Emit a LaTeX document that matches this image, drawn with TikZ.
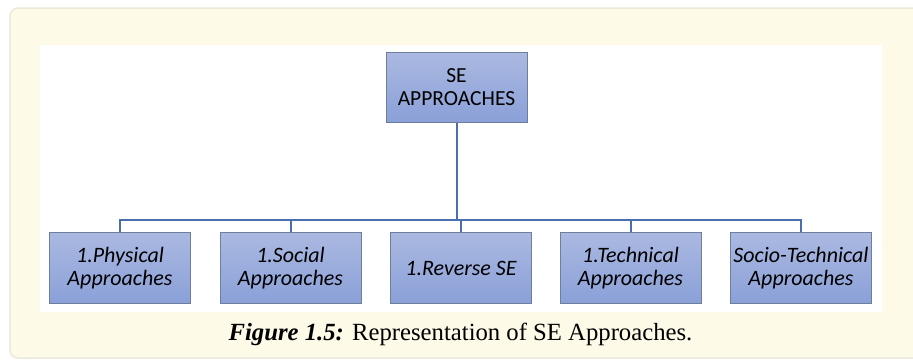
\documentclass[tikz,border=0pt]{standalone}
\usepackage{fontspec}
\setmainfont{Liberation Serif}
\newfontfamily\boxfont{Carlito}
\definecolor{panelfill}{HTML}{FEFAE8}
\definecolor{panelline}{HTML}{ECE9DC}
\definecolor{boxtop}{HTML}{ABB9E1}
\definecolor{boxbot}{HTML}{8AA0D8}
\definecolor{boxline}{HTML}{6E7E9E}
\definecolor{conn}{HTML}{4A6FAE}
\tikzset{
  sebox/.style={rectangle, draw=boxline, line width=1pt, top color=boxtop, bottom color=boxbot,
    minimum width=141pt, minimum height=71pt, inner sep=0pt, align=center,
    font=\boxfont\fontsize{21.5}{22.5}\selectfont, text=black},
  subbox/.style={sebox, font=\boxfont\itshape\fontsize{22}{22.5}\selectfont},
  link/.style={draw=conn, line width=2pt}
}
\begin{document}
\begin{tikzpicture}[x=1pt,y=-1pt]
\useasboundingbox (0,0) rectangle (913,360);
\clip (0,0) rectangle (913,360);
\fill[white] (0,0) rectangle (913,360);
\draw[panelline, fill=panelfill, line width=1.5pt, rounded corners=8pt] (10,8) rectangle (940,358);
\fill[white] (40,45) rectangle (882,312);
\node[sebox, minimum height=70pt] (root) at (456.5,87) {SE\\APPROACHES};
\node[subbox] (b1) at (120,268) {1.Physical\\Approaches};
\node[subbox] (b2) at (290.5,268) {1.Social\\Approaches};
\node[subbox] (b3) at (461,268) {1.Reverse SE};
\node[subbox] (b4) at (630.5,268) {1.Technical\\Approaches};
\node[subbox] (b5) at (801,268) {Socio-Technical\\Approaches};
\coordinate (bar) at (456.5,220);
\draw[link] (root.south) -- (bar);
\draw[link] (b1.north) |- (bar) -| (b5.north);
\foreach \n in {b2,b3,b4}{\draw[link] (\n.north) -- (\n.north |- bar);}
\node[anchor=base, font=\fontsize{24.7}{26}\selectfont] (cap) at (460.5,340) {\textbf{\textit{Figure 1.5:}} Representation of SE Approaches.};
\end{tikzpicture}
\end{document}
